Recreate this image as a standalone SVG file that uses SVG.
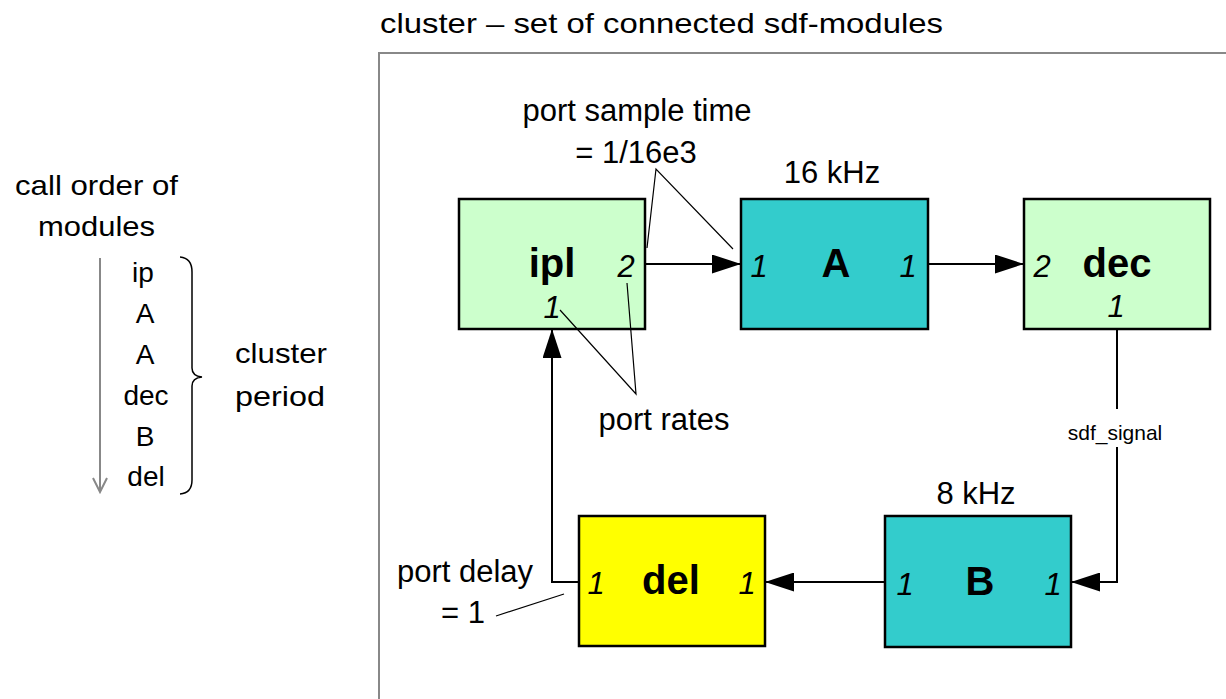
<svg xmlns="http://www.w3.org/2000/svg" width="1226" height="699" viewBox="0 0 1226 699">
  <style>
    .box { stroke: #000; stroke-width: 2.5; }
    .green { fill: #ccffcc; }
    .teal { fill: #33cccc; }
    .yellow { fill: #ffff00; }
    .name { font-family: "Liberation Sans", Arial, sans-serif; font-weight: bold; font-size: 40px; text-anchor: middle; fill: #000; }
    .port { font-family: "Liberation Sans", Arial, sans-serif; font-style: italic; font-size: 31px; text-anchor: middle; fill: #000; }
    .note { font-family: "Liberation Sans", Arial, sans-serif; font-size: 31px; text-anchor: middle; fill: #000; }
    .pix { font-family: "Liberation Sans", Arial, sans-serif; font-size: 28px; fill: #000; }
    .wire { fill: none; stroke: #000; stroke-width: 2; }
    .callout { fill: none; stroke: #000; stroke-width: 1.2; }
    .grey { fill: none; stroke: #888; stroke-width: 2; }
  </style>
  <defs>
    <marker id="head" markerUnits="userSpaceOnUse" markerWidth="29" markerHeight="19" refX="29" refY="9.5" orient="auto">
      <path d="M0,0 L29,9.5 L0,19 z" fill="#000"/>
    </marker>
  </defs>

  <rect width="1226" height="699" fill="#fff"/>

  <!-- call order list on the left -->
  <g id="call-order">
    <text class="pix" x="15" y="195" textLength="163" lengthAdjust="spacingAndGlyphs">call order of</text>
    <text class="pix" x="38" y="236" textLength="117" lengthAdjust="spacingAndGlyphs">modules</text>
    <path class="grey" d="M100,258 V491 M93,478 L100,492 L107,478" stroke-width="1.6"/>
    <g class="pix" text-anchor="middle">
      <text x="143" y="282">ip</text>
      <text x="145" y="323">A</text>
      <text x="145" y="364">A</text>
      <text x="146" y="405">dec</text>
      <text x="145" y="446">B</text>
      <text x="146" y="486">del</text>
    </g>
    <path d="M180,257 Q192,258 192,272 V368 Q192,376 202,377 Q192,378 192,386 V480 Q192,493 180,494" fill="none" stroke="#000" stroke-width="1.5"/>
    <text class="pix" x="235" y="363" textLength="92" lengthAdjust="spacingAndGlyphs">cluster</text>
    <text class="pix" x="235" y="406" textLength="90" lengthAdjust="spacingAndGlyphs">period</text>
  </g>

  <!-- cluster frame -->
  <g id="cluster">
    <text class="pix" x="380" y="33" font-size="30" textLength="563" lengthAdjust="spacingAndGlyphs">cluster – set of connected sdf-modules</text>
    <path class="grey" d="M1230,53 H379 V705"/>
  </g>

  <!-- connectors -->
  <g id="connectors">
    <path class="wire" d="M645,264 H741" marker-end="url(#head)"/>
    <path class="wire" d="M928,264 H1024" marker-end="url(#head)"/>
    <path class="wire" d="M1117,329 V409"/>
    <path class="wire" d="M1117,447 V582 H1071" marker-end="url(#head)"/>
    <path class="wire" d="M885,582 H765" marker-end="url(#head)"/>
    <path class="wire" d="M579,582 H552 V329" marker-end="url(#head)"/>
    <text x="1115" y="440" font-family="Liberation Sans, Arial, sans-serif" font-size="21" text-anchor="middle">sdf_signal</text>
  </g>

  <!-- modules -->
  <g id="ipl">
    <rect class="box green" x="459" y="199" width="186" height="130"/>
    <text class="name" x="552" y="277">ipl</text>
    <text class="port" x="626" y="277">2</text>
    <text class="port" x="552" y="318">1</text>
  </g>
  <g id="A">
    <rect class="box teal" x="741" y="199" width="187" height="130"/>
    <text class="name" x="836" y="277">A</text>
    <text class="port" x="759" y="277">1</text>
    <text class="port" x="908" y="277">1</text>
    <text class="note" x="832" y="183">16 kHz</text>
  </g>
  <g id="dec">
    <rect class="box green" x="1024" y="199" width="186" height="130"/>
    <text class="name" x="1117" y="277">dec</text>
    <text class="port" x="1042" y="277">2</text>
    <text class="port" x="1116" y="317">1</text>
  </g>
  <g id="del">
    <rect class="box yellow" x="579" y="516" width="186" height="130"/>
    <text class="name" x="671" y="594">del</text>
    <text class="port" x="596" y="594">1</text>
    <text class="port" x="747" y="594">1</text>
  </g>
  <g id="B">
    <rect class="box teal" x="885" y="516" width="186" height="131"/>
    <text class="name" x="980" y="595">B</text>
    <text class="port" x="905" y="595">1</text>
    <text class="port" x="1053" y="595">1</text>
    <text class="note" x="976" y="504">8 kHz</text>
  </g>

  <!-- annotations -->
  <g id="annotations">
    <text class="note" x="637" y="121">port sample time</text>
    <text class="note" x="636" y="163">= 1/16e3</text>
    <path class="callout" d="M647,248 L656,169 L733,249"/>
    <text class="note" x="664" y="430">port rates</text>
    <path class="callout" d="M560,310 L636,394 L627,283"/>
    <text class="note" x="465" y="582">port delay</text>
    <text class="note" x="463" y="623">= 1</text>
    <path class="callout" d="M496,616 L564,594"/>
  </g>
</svg>
